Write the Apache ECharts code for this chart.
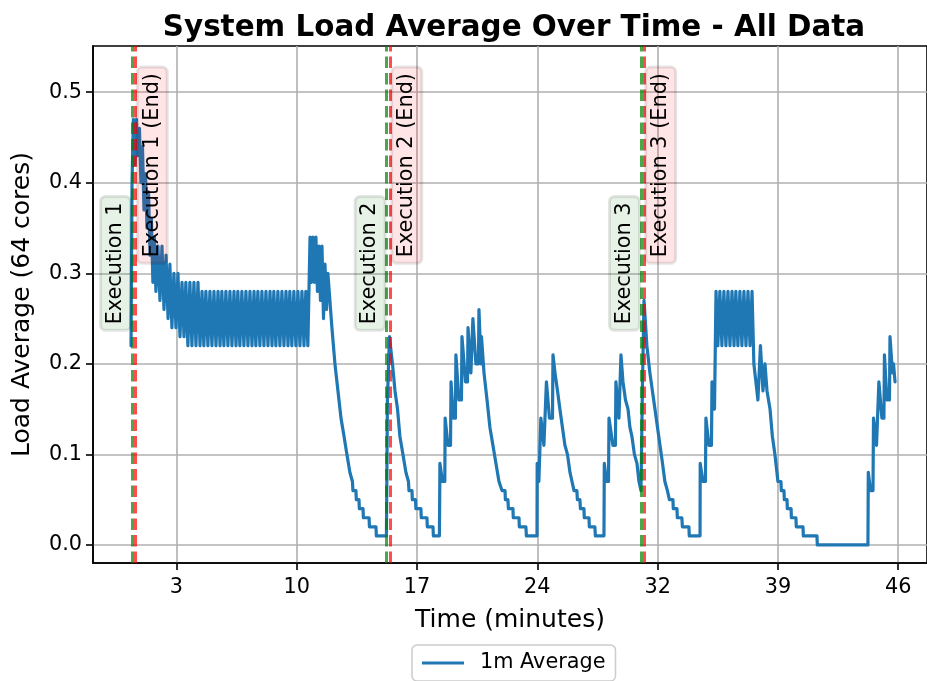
<!DOCTYPE html>
<html><head><meta charset="utf-8">
<script src="https://cdn.jsdelivr.net/npm/echarts@6/dist/echarts.min.js"></script>
<style>html,body{margin:0;padding:0;background:#fff}#chart{width:927px;height:681px}</style>
</head><body><div id="chart"></div>
<script>
// ---- data: [time in minutes, 1-minute load average] ----
const phase1 = [[0.25,0.22],[0.31,0.40],[0.39,0.47],[0.48,0.42],[0.57,0.47],[0.66,0.43],[0.75,0.46],[0.84,0.40],[0.93,0.44],[1.02,0.37],[1.11,0.41],[1.20,0.35],[1.29,0.39],[1.38,0.32],[1.46,0.36],[1.55,0.29],[1.64,0.34],[1.73,0.28],
[1.85,0.33],[1.97,0.27],[2.09,0.33],[2.21,0.26],[2.33,0.32],[2.45,0.25],[2.56,0.31],[2.68,0.24],[2.80,0.30],[2.92,0.24],[3.04,0.30],[3.16,0.23],[3.28,0.29],[3.40,0.23],[3.51,0.29],[3.63,0.22],[3.75,0.29],[3.87,0.22],[3.99,0.29],[4.11,0.22],[4.23,0.29],[4.35,0.22],
[4.47,0.28],[4.58,0.22],[4.70,0.28],[4.82,0.22],[4.94,0.28],[5.06,0.22],[5.18,0.28],[5.30,0.22],[5.42,0.28],[5.54,0.22],[5.65,0.28],[5.77,0.22],[5.89,0.28],[6.01,0.22],[6.13,0.28],[6.25,0.22],[6.37,0.28],[6.49,0.22],[6.60,0.28],[6.72,0.22],[6.84,0.28],[6.96,0.22],[7.08,0.28],[7.20,0.22],[7.32,0.28],[7.44,0.22],[7.56,0.28],[7.67,0.22],[7.79,0.28],[7.91,0.22],[8.03,0.28],[8.15,0.22],[8.27,0.28],[8.39,0.22],[8.51,0.28],[8.63,0.22],[8.74,0.28],[8.86,0.22],[8.98,0.28],[9.10,0.22],[9.22,0.28],[9.34,0.22],[9.46,0.28],[9.58,0.22],[9.69,0.28],[9.81,0.22],[9.93,0.28],[10.05,0.22],[10.17,0.28],[10.29,0.22],[10.41,0.28],[10.53,0.22],[10.64,0.28],[10.76,0.22]];
const phase2 = [[10.89,0.34],[10.97,0.29],[11.06,0.34],[11.15,0.29],[11.24,0.34],[11.33,0.28],[11.42,0.33],[11.51,0.27],[11.60,0.33],[11.69,0.25],[11.78,0.31],[11.87,0.26],[11.95,0.30],[12.07,0.27],[12.19,0.24],[12.37,0.20],[12.55,0.17],[12.73,0.14],[12.91,0.12],[13.08,0.10],[13.26,0.08],[13.41,0.07],[13.44,0.06],[13.62,0.06],[13.64,0.05],[13.80,0.05],[13.82,0.04],[14.04,0.04],[14.06,0.03],[14.40,0.03],[14.42,0.02],[14.81,0.02],[14.83,0.01],[15.43,0.01]];
const phase3 = [[15.49,0.16],[15.61,0.23],[15.70,0.23],[15.79,0.20],[15.94,0.17],[16.09,0.15],[16.23,0.12],[16.41,0.10],[16.59,0.08],[16.74,0.07],[16.77,0.06],[16.95,0.06],[16.97,0.05],[17.16,0.05],[17.18,0.04],[17.48,0.04],[17.50,0.03],[17.84,0.03],[17.86,0.02],[18.20,0.02],[18.22,0.01],[18.58,0.01]];
const phase4 = [[18.61,0.09],[18.76,0.07],[18.90,0.07],[18.92,0.14],[19.09,0.11],[19.24,0.11],[19.27,0.18],[19.41,0.14],[19.53,0.14],[19.56,0.21],[19.74,0.16],[19.89,0.16],[19.92,0.23],[20.13,0.18],[20.25,0.18],[20.28,0.24],[20.45,0.19],[20.54,0.19],[20.57,0.25],[20.75,0.20],[20.90,0.20],[20.93,0.26],[21.05,0.20],[21.08,0.23],[21.23,0.19],[21.41,0.16],[21.58,0.13],[21.76,0.11],[21.94,0.09],[22.12,0.07],[22.30,0.06],[22.48,0.06],[22.50,0.05],[22.65,0.05],[22.68,0.04],[22.95,0.04],[22.97,0.03],[23.31,0.03],[23.33,0.02],[23.72,0.02],[23.75,0.01],[24.38,0.01]];
const phase5 = [[24.39,0.09],[24.49,0.07],[24.58,0.07],[24.61,0.14],[24.79,0.11],[24.88,0.11],[24.94,0.18],[25.12,0.14],[25.30,0.14],[25.33,0.21],[25.45,0.19],[25.60,0.17],[25.74,0.15],[25.89,0.13],[26.04,0.11],[26.19,0.10],[26.34,0.08],[26.46,0.07],[26.58,0.06],[26.75,0.06],[26.78,0.05],[26.93,0.05],[26.96,0.04],[27.17,0.04],[27.19,0.03],[27.47,0.03],[27.49,0.02],[27.82,0.02],[27.85,0.01],[28.36,0.01]];
const phase6 = [[28.38,0.09],[28.51,0.07],[28.63,0.07],[28.66,0.14],[28.89,0.11],[29.04,0.11],[29.07,0.18],[29.25,0.14],[29.34,0.14],[29.37,0.21],[29.49,0.18],[29.64,0.16],[29.79,0.15],[29.90,0.13],[30.02,0.12],[30.17,0.10],[30.32,0.09],[30.44,0.07],[30.56,0.06],[30.65,0.18],[30.74,0.27],[30.80,0.27],[30.91,0.22],[31.09,0.19],[31.24,0.17],[31.39,0.15],[31.54,0.13],[31.69,0.11],[31.84,0.09],[31.98,0.07],[32.13,0.06],[32.22,0.06],[32.25,0.05],[32.46,0.05],[32.48,0.04],[32.70,0.04],[32.72,0.03],[32.99,0.03],[33.02,0.02],[33.41,0.02],[33.43,0.01],[34.07,0.01]];
const phase7 = [[34.08,0.09],[34.24,0.07],[34.39,0.07],[34.42,0.14],[34.60,0.11],[34.75,0.11],[34.78,0.18],[34.93,0.15],[35.02,0.28],[35.13,0.22],[35.25,0.28],[35.37,0.22],[35.49,0.28],[35.61,0.22],[35.73,0.28],[35.85,0.22],[35.97,0.28],[36.09,0.22],[36.20,0.28],[36.32,0.22],[36.44,0.28],[36.56,0.22],[36.68,0.28],[36.80,0.22],[36.92,0.28],[37.04,0.22],[37.16,0.28],[37.27,0.20],[37.39,0.18],[37.51,0.16],[37.66,0.22],[37.81,0.17],[37.93,0.20],[38.05,0.17],[38.23,0.15],[38.37,0.12],[38.52,0.10],[38.70,0.07],[38.88,0.07],[38.90,0.06],[39.06,0.06],[39.08,0.05],[39.24,0.05],[39.26,0.04],[39.48,0.04],[39.50,0.03],[39.77,0.03],[39.79,0.02],[40.19,0.02],[40.21,0.01],[41.02,0.01],[41.04,0.00],[44.05,0.00]];
const phase8 = [[44.07,0.08],[44.20,0.06],[44.35,0.06],[44.38,0.14],[44.56,0.11],[44.67,0.11],[44.70,0.18],[44.88,0.14],[45.00,0.14],[45.03,0.21],[45.18,0.16],[45.33,0.16],[45.36,0.23],[45.51,0.19],[45.57,0.20],[45.66,0.18]];

const execStart = [0.31, 15.44, 30.56];
const execEnd = [0.53, 15.66, 30.75];
const startLabels = ['Execution 1', 'Execution 2', 'Execution 3'];
const endLabels = ['Execution 1 (End)', 'Execution 2 (End)', 'Execution 3 (End)'];

const xTickValues = [2.95, 10.10, 17.25, 24.40, 31.55, 38.70, 45.85];
const xTickLabels = ['3', '10', '17', '24', '32', '39', '46'];
const yTickValues = [0, 0.1, 0.2, 0.3, 0.4, 0.5];
const yTickLabels = ['0.0', '0.1', '0.2', '0.3', '0.4', '0.5'];

// ---- chart ----
const series1m = [].concat(phase1, phase2, phase3, phase4, phase5, phase6, phase7, phase8);
const FONT = '"DejaVu Sans", "Liberation Sans", sans-serif';
const LABEL_Y_START = 0.237, LABEL_Y_END = 0.311;

const annot = [];
execStart.forEach((t, i) => annot.push([t, LABEL_Y_START, 0, i]));
execEnd.forEach((t, i) => annot.push([t, LABEL_Y_END, 1, i]));

const markData = [];
execStart.forEach(t => markData.push({xAxis: t, lineStyle: {color: 'rgba(0,128,0,0.7)', width: 3, type: [11.5, 5]}}));
execEnd.forEach(t => markData.push({xAxis: t, lineStyle: {color: 'rgba(255,0,0,0.7)', width: 3, type: [11.5, 5]}}));

function lookup(vals, labels, v) {
  const i = vals.findIndex(x => Math.abs(x - v) < 1e-6);
  return i >= 0 ? labels[i] : '';
}

const chart = echarts.init(document.getElementById('chart'), null, {renderer: 'canvas'});
chart.setOption({
  animation: false,
  backgroundColor: '#ffffff',
  title: {
    text: 'System Load Average Over Time - All Data',
    left: 509, top: 9, textAlign: 'center',
    textStyle: {fontFamily: FONT, fontWeight: 'bold', fontSize: 29.4, color: '#000'}
  },
  grid: {left: 93, right: 0, top: 46, bottom: 118, show: true, borderColor: '#000', borderWidth: 1.6, backgroundColor: 'transparent'},
  legend: {
    data: ['1m Average'],
    left: 412, top: 645,
    padding: [6, 10],
    icon: 'rect',
    itemWidth: 42, itemHeight: 3,
    borderColor: '#cccccc', borderWidth: 1.5, borderRadius: 5,
    backgroundColor: 'rgba(255,255,255,0.8)',
    textStyle: {fontFamily: FONT, fontSize: 20.8, color: '#000', padding: [0, 0, 0, 11], lineHeight: 24}
  },
  xAxis: {
    type: 'value', min: -2.01, max: 47.56,
    name: 'Time (minutes)', nameLocation: 'middle', nameGap: 45,
    nameTextStyle: {fontFamily: FONT, fontSize: 25, color: '#000'},
    axisLine: {onZero: false, lineStyle: {color: '#000', width: 1.6}},
    axisTick: {show: true, length: 7, lineStyle: {color: '#000', width: 1.6}, customValues: xTickValues},
    axisLabel: {customValues: xTickValues, margin: 14, fontFamily: FONT, fontSize: 20.8, color: '#000',
      formatter: v => lookup(xTickValues, xTickLabels, v)},
    splitLine: {show: true, lineStyle: {color: '#b0b0b0', width: 1.6}}
  },
  yAxis: {
    type: 'value', min: -0.02, max: 0.551,
    name: 'Load Average (64 cores)', nameLocation: 'middle', nameGap: 58,
    nameTextStyle: {fontFamily: FONT, fontSize: 25, color: '#000'},
    axisLine: {show: true, onZero: false, lineStyle: {color: '#000', width: 1.6}},
    axisTick: {show: true, length: 7, lineStyle: {color: '#000', width: 1.6}, customValues: yTickValues},
    axisLabel: {customValues: yTickValues, margin: 11, fontFamily: FONT, fontSize: 20.8, color: '#000',
      formatter: v => lookup(yTickValues, yTickLabels, v)},
    splitLine: {show: true, lineStyle: {color: '#b0b0b0', width: 1.6}}
  },
  series: [
    {
      name: '1m Average', type: 'line', data: series1m,
      symbol: 'none', showSymbol: false, sampling: null, z: 3,
      lineStyle: {color: '#1f77b4', width: 3.2, join: 'round', cap: 'round'},
      itemStyle: {color: '#1f77b4'},
      markLine: {silent: true, symbol: 'none', label: {show: false}, data: markData, z: 5}
    },
    {
      name: 'annotations', type: 'custom', data: annot, z: 10, clip: false, silent: true,
      encode: {x: 0, y: 1},
      renderItem: (params, api) => {
        const kind = api.value(2), i = api.value(3);
        const p = api.coord([api.value(0), api.value(1)]);
        return {
          type: 'text', x: p[0] + (kind === 0 ? -1.5 : 1.5), y: p[1], rotation: Math.PI / 2,
          style: {
            text: kind === 0 ? startLabels[i] : endLabels[i],
            font: '20.8px ' + FONT, fill: '#000',
            align: 'left', verticalAlign: kind === 0 ? 'bottom' : 'top',
            backgroundColor: kind === 0 ? 'rgba(0,128,0,0.1)' : 'rgba(255,0,0,0.1)',
            borderColor: 'rgba(0,0,0,0.1)', borderWidth: 1.5, borderRadius: 5,
            padding: [4.5, 6]
          }
        };
      }
    }
  ]
});
</script>
</body></html>
